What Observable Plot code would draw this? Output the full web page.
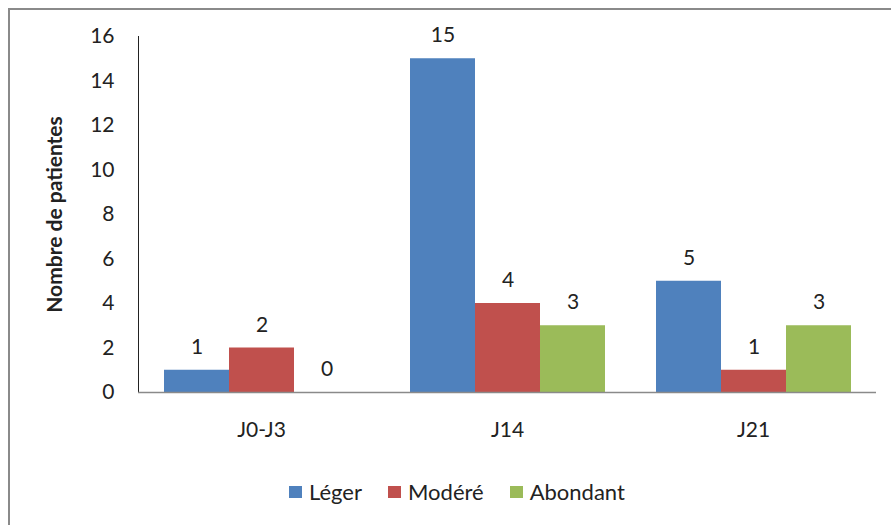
<!DOCTYPE html>
<html>
<head>
<meta charset="utf-8">
<script src="https://cdn.jsdelivr.net/npm/d3@7"></script>
<script src="https://cdn.jsdelivr.net/npm/@observablehq/plot@0.6"></script>
<style>
  html, body { margin: 0; padding: 0; background: #fff; overflow: hidden; width: 891px; height: 525px; }
  #frame { position: absolute; left: 8px; top: 8px; width: 920px; height: 560px; border: 2px solid #8a8a8a; box-sizing: border-box; }
  #chart { position: absolute; left: 0; top: 0; }
  #chart svg { font-family: Lato, "Open Sans", sans-serif; }
  #legend { position: absolute; left: 289px; top: 478px; display: flex; align-items: center; font-family: Lato, "Open Sans", sans-serif; font-size: 22px; color: #222; }
  .item { display: flex; align-items: center; margin-right: 26px; }
  .sw { width: 13px; height: 12px; margin-right: 7px; }
</style>
</head>
<body>
<div id="frame"></div>
<div id="chart"></div>
<div id="legend"></div>
<script>
const categories = ["J0-J3", "J14", "J21"];
const series = ["Léger", "Modéré", "Abondant"];
const leger = [1, 15, 5];
const modere = [2, 4, 1];
const abondant = [0, 3, 3];
const colors = ["#4F81BD", "#C0504D", "#9BBB59"];
const yTicks = [0, 2, 4, 6, 8, 10, 12, 14, 16];

const values = [leger, modere, abondant];
const data = [];
categories.forEach((c, i) => series.forEach((s, j) => data.push({cat: c, serie: s, value: values[j][i]})));

const plot = Plot.plot({
  width: 891,
  height: 460,
  marginLeft: 137,
  marginRight: 15,
  marginTop: 36,
  marginBottom: 68,
  style: {fontSize: "21px", color: "#222"},
  fx: {domain: categories, padding: 0, label: null, tickSize: 0, tickPadding: 30, axis: "bottom"},
  x: {domain: series, paddingInner: 0, paddingOuter: 0.375, axis: null},
  y: {domain: [0, 16], ticks: yTicks, tickSize: 0, tickPadding: 24, label: "Nombre de patientes", labelAnchor: "center", labelOffset: 91, labelArrow: "none", line: true},
  color: {domain: series, range: colors},
  marks: [
    Plot.barY(data, {fx: "cat", x: "serie", y: "value", fill: "serie"}),
    Plot.ruleY([0], {stroke: "#8a8a8a", strokeWidth: 1.3}),
    Plot.text(data, {fx: "cat", x: "serie", y: "value", text: d => String(d.value), dy: -23, fontSize: 21, fill: "#222"})
  ]
});
document.getElementById("chart").appendChild(plot);
plot.querySelectorAll('[aria-label="y-axis label"] text, [aria-label="y-axis label"]').forEach(e => e.setAttribute("font-weight", "bold"));
plot.querySelectorAll('[aria-label="y-axis line"], [aria-label="y-axis tick"]').forEach(e => e.setAttribute("stroke", "#8a8a8a"));

const legend = document.getElementById("legend");
series.forEach((s, i) => {
  const it = document.createElement("div");
  it.className = "item";
  it.innerHTML = `<div class="sw" style="background:${colors[i]}"></div><span>${s}</span>`;
  legend.appendChild(it);
});
</script>
</body>
</html>
